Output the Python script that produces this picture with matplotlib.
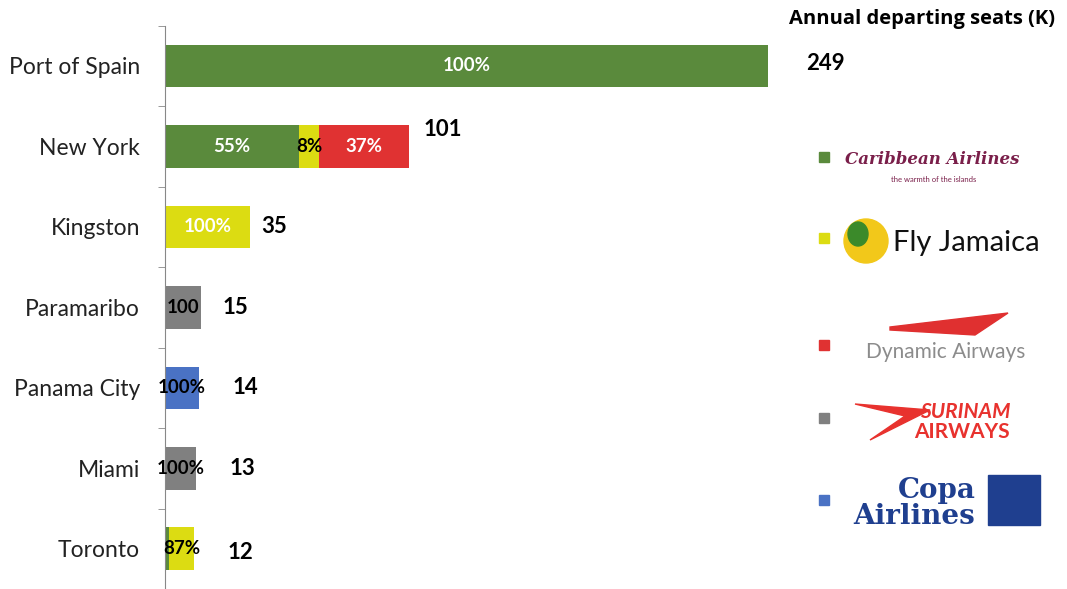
import matplotlib.pyplot as plt
from matplotlib.patches import Rectangle, Ellipse, Polygon
import numpy as np

plt.rcParams['font.family'] = ['Lato', 'DejaVu Sans']

cities = ['Port of Spain', 'New York', 'Kingston', 'Paramaribo', 'Panama City', 'Miami', 'Toronto']
totals = [249, 101, 35, 15, 14, 13, 12]

airlines = ['Caribbean Airlines', 'Fly Jamaica', 'Dynamic Airways', 'Surinam Airways', 'Copa Airlines']
colors = ['#5a8a3c', '#dcdc12', '#e03232', '#808080', '#4a72c4']

# share of each city's seats per airline (%)
shares = {
    'Caribbean Airlines': [100, 55, 0, 0, 0, 0, 13],
    'Fly Jamaica':        [0, 8, 100, 0, 0, 0, 87],
    'Dynamic Airways':    [0, 37, 0, 0, 0, 0, 0],
    'Surinam Airways':    [0, 0, 0, 100, 0, 100, 0],
    'Copa Airlines':      [0, 0, 0, 0, 100, 0, 0],
}

# labels shown inside the bars: (city index, airline, text, colour)
inner_labels = [
    (0, 'Caribbean Airlines', '100%', 'white'),
    (1, 'Caribbean Airlines', '55%', 'white'),
    (1, 'Fly Jamaica', '8%', 'black'),
    (1, 'Dynamic Airways', '37%', 'white'),
    (2, 'Fly Jamaica', '100%', 'white'),
    (3, 'Surinam Airways', '100', 'black'),
    (4, 'Copa Airlines', '100%', 'black'),
    (5, 'Surinam Airways', '100%', 'black'),
    (6, 'Fly Jamaica', '87%', 'black'),
]

# offsets (points) of the total labels from the bar end
total_dx = [28, 10, 8, 15, 24, 24, 24]
total_dy = [2, 12, 0, 0, 0, 0, -3]

fig = plt.figure(figsize=(10.67, 5.89), dpi=100)
ax = fig.add_axes([165 / 1067, 0.0, 726 / 1067, 0.9563])

y = np.arange(len(cities))
totals_arr = np.array(totals, dtype=float)
left = np.zeros(len(cities))
segs = {}
for name, col in zip(airlines, colors):
    w = totals_arr * np.array(shares[name]) / 100.0
    ax.barh(y, w, left=left, height=0.53, color=col, edgecolor='none')
    segs[name] = (left.copy(), w)
    left = left + w

for i, name, txt, c in inner_labels:
    l, w = segs[name]
    ax.text(l[i] + w[i] / 2, y[i], txt, ha='center', va='center',
            color=c, fontsize=13.5, fontweight='bold')

for i, t in enumerate(totals):
    ax.annotate(str(t), (t, y[i]), xytext=(total_dx[i], total_dy[i]),
                textcoords='offset points', ha='left', va='center',
                fontsize=16, fontweight='bold')

ax.set_xlim(0, 300)
ax.set_ylim(len(cities) - 0.5, -0.5)
ax.set_yticks(y)
ax.set_yticklabels(cities, fontsize=16.5, color='#222222')
ax.tick_params(axis='y', which='major', length=0, pad=18)
ax.set_yticks(np.arange(-0.5, len(cities)), minor=True)
ax.tick_params(axis='y', which='minor', length=5, direction='out', color='#888888')
ax.set_xticks([])
for s in ['top', 'right', 'bottom']:
    ax.spines[s].set_visible(False)
ax.spines['left'].set_color('#888888')

# header and legend with airline wordmarks
def px(x, yy):
    return x / 1067, 1 - yy / 589

fig.text(*px(922, 19), 'Annual departing seats (K)', ha='center', va='center',
         fontsize=14.5, fontweight='bold', family=['Open Sans', 'DejaVu Sans'])

marker_y = [157, 238, 345, 418, 500]
for my, col in zip(marker_y, colors):
    fig.add_artist(Rectangle(px(819, my + 5), 10 / 1067, 10 / 589,
                             transform=fig.transFigure, color=col))

fig.text(*px(932, 160), 'Caribbean Airlines', ha='center', va='center', fontsize=12,
         style='italic', fontweight='bold', color='#7a1f4a', family=['DejaVu Serif'])
fig.text(*px(934, 179), 'the warmth of the islands', ha='center', va='center',
         fontsize=5.5, color='#7a1f4a')

fig.add_artist(Ellipse(px(866, 241), 44 / 1067, 44 / 589, transform=fig.transFigure,
                       color='#f2c81a'))
fig.add_artist(Ellipse(px(858, 234), 20 / 1067, 24 / 589, transform=fig.transFigure,
                       color='#3b8a2a'))
fig.text(*px(966, 243), 'Fly Jamaica', ha='center', va='center', fontsize=21,
         color='#111111', family=['Liberation Sans Narrow', 'Lato'])

fig.add_artist(Polygon([px(890, 327), px(1008, 313), px(975, 335), px(890, 330)],
                       closed=True, transform=fig.transFigure, color='#e03030'))
fig.text(*px(946, 352), 'Dynamic Airways', ha='center', va='center', fontsize=15,
         color='#8c8c8c')

fig.add_artist(Polygon([px(855, 404), px(930, 410), px(870, 440), px(905, 416)],
                       closed=True, transform=fig.transFigure, color='#e8322e'))
fig.text(*px(965, 412), 'SURINAM', ha='center', va='center', fontsize=15,
         style='italic', fontweight='bold', color='#e8322e')
fig.text(*px(962, 432), 'AIRWAYS', ha='center', va='center', fontsize=15,
         fontweight='bold', color='#e8322e')

fig.text(*px(937, 490), 'Copa', ha='center', va='center', fontsize=20,
         fontweight='bold', color='#1f3f8f', family=['DejaVu Serif'])
fig.text(*px(914, 516), 'Airlines', ha='center', va='center', fontsize=20,
         fontweight='bold', color='#1f3f8f', family=['DejaVu Serif'])
fig.add_artist(Rectangle(px(988, 525), 52 / 1067, 50 / 589,
                         transform=fig.transFigure, color='#1f3f8f'))

fig.savefig('out.png', dpi=100)
